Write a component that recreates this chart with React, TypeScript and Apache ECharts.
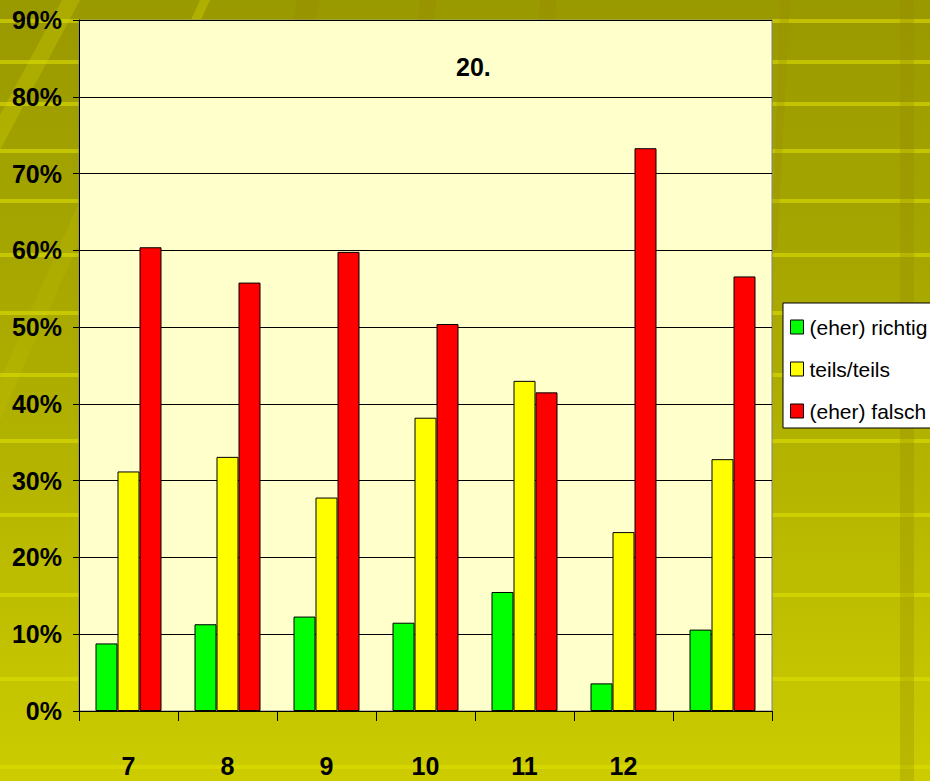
import React, { useEffect, useRef } from "react";
import * as echarts from "echarts";

const categories = ["7", "8", "9", "10", "11", "12", ""];
const seriesNames = ["(eher) richtig", "teils/teils", "(eher) falsch"];
const richtig = [8.8, 11.3, 12.3, 11.5, 15.5, 3.6, 10.6];
const teils = [31.2, 33.1, 27.8, 38.2, 43.0, 23.3, 32.8];
const falsch = [60.4, 55.8, 59.8, 50.4, 41.5, 73.3, 56.6];
const seriesColors = ["#00FF00", "#FFFF00", "#FF0000"];
const chartTitle = "20.";
const yMax = 90;
const yStep = 10;

const stripeYs = [19, 60, 102, 149, 199, 253, 311, 373, 439, 513, 593, 677, 765];

const FONT = "'Liberation Sans', Arial, sans-serif";

export default function App() {
  const ref = useRef<HTMLDivElement>(null);
  useEffect(() => {
    if (!ref.current) return;
    const chart = echarts.init(ref.current, undefined, { renderer: "svg" });
    const bgElements: any[] = [
      {
        type: "rect",
        z: -100,
        shape: { x: 0, y: 0, width: 930, height: 781 },
        style: {
          fill: new echarts.graphic.LinearGradient(0, 0, 0, 1, [
            { offset: 0, color: "#999900" },
            { offset: 0.45, color: "#ABAB00" },
            { offset: 1, color: "#CCCC00" },
          ]),
        },
        silent: true,
      },
      ...stripeYs.map((y) => ({
        type: "rect",
        z: -99,
        shape: { x: 0, y, width: 930, height: 4 },
        style: { fill: "rgba(225,225,0,0.55)" },
        silent: true,
      })),
      {
        type: "rect",
        z: -98,
        shape: { x: 900, y: 0, width: 14, height: 781 },
        style: { fill: "rgba(150,140,0,0.3)" },
        silent: true,
      },
      {
        type: "polygon",
        z: -98,
        shape: { points: [[62, 0], [80, 0], [0, 150], [0, 115]] },
        style: { fill: "rgba(230,230,0,0.22)" },
        silent: true,
      },
      {
        type: "polygon",
        z: -98,
        shape: { points: [[80, 200], [80, 240], [0, 420], [0, 380]] },
        style: { fill: "rgba(230,230,0,0.1)" },
        silent: true,
      },
      {
        type: "polygon",
        z: -98,
        shape: { points: [[200, 0], [210, 0], [200, 22], [190, 22]] },
        style: { fill: "rgba(230,230,0,0.3)" },
        silent: true,
      },
      {
        type: "polygon",
        z: -98,
        shape: { points: [[297, 0], [320, 0], [316, 22], [293, 22]] },
        style: { fill: "rgba(150,140,0,0.3)" },
        silent: true,
      },
      {
        type: "polygon",
        z: -98,
        shape: { points: [[420, 0], [436, 0], [434, 22], [418, 22]] },
        style: { fill: "rgba(150,140,0,0.3)" },
        silent: true,
      },
      {
        type: "polygon",
        z: -98,
        shape: { points: [[540, 0], [556, 0], [555, 22], [539, 22]] },
        style: { fill: "rgba(150,140,0,0.3)" },
        silent: true,
      },
      {
        type: "polygon",
        z: -98,
        shape: { points: [[780, 0], [790, 0], [777, 250], [772, 250]] },
        style: { fill: "rgba(150,140,0,0.25)" },
        silent: true,
      },
    ];

    const mkSeries = (name: string, data: number[], color: string) => ({
      name,
      type: "bar",
      data,
      barWidth: 22,
      barGap: "0%",
      itemStyle: { color, borderColor: "#000", borderWidth: 1 },
      emphasis: { disabled: true },
    });

    chart.setOption({
      animation: false,
      title: {
        text: chartTitle,
        left: 456,
        top: 54,
        padding: 0,
        textStyle: { fontFamily: FONT, fontWeight: "bold", fontSize: 25, color: "#000" },
      },
      graphic: bgElements,
      legend: {
        orient: "vertical",
        left: 783,
        top: 303,
        padding: [11, 40, 4, 7],
        backgroundColor: "#FFFFFF",
        borderColor: "#000",
        borderWidth: 1,
        borderRadius: 0,
        itemWidth: 13,
        itemHeight: 14,
        itemGap: 16,
        icon: "rect",
        data: seriesNames.map((n) => ({ name: n, itemStyle: { borderColor: "#000", borderWidth: 1 } })),
        textStyle: { fontFamily: FONT, fontSize: 21, color: "#000", lineHeight: 26, padding: [0, 0, 0, 1] },
      },
      grid: {
        left: 79,
        right: 158,
        top: 20,
        bottom: 70,
        show: true,
        backgroundColor: "#FFFFCC",
        borderColor: "#808080",
        borderWidth: 1,
        containLabel: false,
      },
      xAxis: {
        type: "category",
        data: categories,
        boundaryGap: true,
        axisLine: { show: true, lineStyle: { color: "#000", width: 1 } },
        axisTick: { show: true, length: 10, alignWithLabel: false, lineStyle: { color: "#000" } },
        axisLabel: {
          interval: 0,
          margin: 42,
          fontFamily: FONT,
          fontWeight: "bold",
          fontSize: 25,
          color: "#000",
        },
      },
      yAxis: {
        type: "value",
        min: 0,
        max: yMax,
        interval: yStep,
        axisLine: { show: true, lineStyle: { color: "#000", width: 1 } },
        axisTick: { show: true, length: 6, inside: false, lineStyle: { color: "#000" } },
        splitLine: { show: true, lineStyle: { color: "#000", width: 1 } },
        axisLabel: {
          formatter: "{value}%",
          margin: 17,
          fontFamily: FONT,
          fontWeight: "bold",
          fontSize: 25,
          color: "#000",
        },
      },
      series: [
        mkSeries(seriesNames[0], richtig, seriesColors[0]),
        mkSeries(seriesNames[1], teils, seriesColors[1]),
        mkSeries(seriesNames[2], falsch, seriesColors[2]),
      ],
    });
    return () => chart.dispose();
  }, []);
  return (
    <div
      ref={ref}
      style={{ position: "absolute", left: 0, top: 0, width: 930, height: 781, overflow: "hidden" }}
    />
  );
}
